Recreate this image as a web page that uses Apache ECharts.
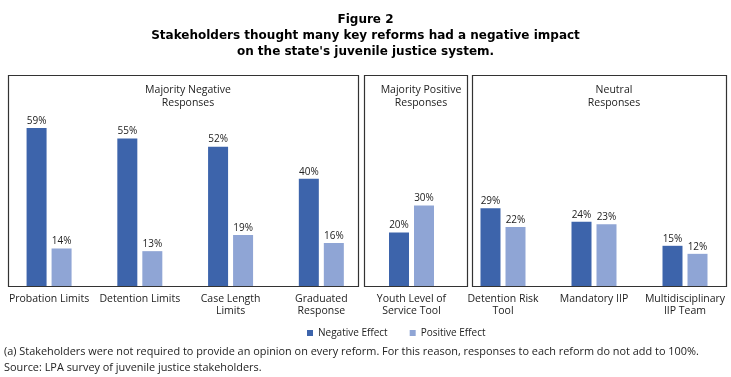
<!DOCTYPE html>
<html>
<head>
<meta charset="utf-8">
<script src="https://cdn.jsdelivr.net/npm/echarts@6/dist/echarts.min.js"></script>
<style>
  html, body { margin: 0; padding: 0; background: #fff; }
  #chart { width: 731px; height: 377px; }
</style>
</head>
<body>
<div id="chart"></div>
<script>
// panel 1 - majority negative
const cats1 = ['Probation Limits', 'Detention Limits', 'Case Length\nLimits', 'Graduated\nResponse'];
const neg1 = [59, 55, 52, 40];
const pos1 = [14, 13, 19, 16];
// panel 2 - majority positive
const cats2 = ['Youth Level of\nService Tool'];
const neg2 = [20];
const pos2 = [30];
// panel 3 - neutral
const cats3 = ['Detention Risk\nTool', 'Mandatory IIP', 'Multidisciplinary\nIIP Team'];
const neg3 = [29, 24, 15];
const pos3 = [22, 23, 12];

const darkBlue = '#3d64ab';
const lightBlue = '#8fa5d5';
const font = 'Open Sans';

const chart = echarts.init(document.getElementById('chart'));

function grid(left, width) {
    return {left: left, width: width, top: 18, bottom: 91};
}
function xAx(idx, data) {
    return {
        type: 'category', gridIndex: idx, data: data,
        axisLine: {show: false}, axisTick: {show: false},
        axisLabel: {interval: 0, color: '#222', fontFamily: font, fontSize: 10.5, lineHeight: 12, margin: 7}
    };
}
function yAx(idx) {
    return {type: 'value', gridIndex: idx, min: 0, max: 100, show: false};
}
function bar(name, idx, data, color) {
    return {
        name: name, type: 'bar', xAxisIndex: idx, yAxisIndex: idx,
        data: data, barWidth: 20, barGap: '25%',
        itemStyle: {color: color},
        label: {show: true, position: 'top', distance: 2, formatter: '{c}%', color: '#222', fontFamily: font, fontSize: 10},
        animation: false
    };
}
function panelTitle(text, x) {
    return {
        text: text, left: x, top: 79, textAlign: 'center',
        textStyle: {fontFamily: font, fontSize: 10.5, fontWeight: 'normal', color: '#222', lineHeight: 13}
    };
}

chart.setOption({
    backgroundColor: '#ffffff',
    title: [
        {
            text: 'Figure 2\nStakeholders thought many key reforms had a negative impact\non the state\'s juvenile justice system.',
            left: 'center', top: 7,
            textStyle: {fontFamily: 'DejaVu Sans', fontSize: 12, fontWeight: 'bold', color: '#000', lineHeight: 16, align: 'center'}
        },
        panelTitle('Majority Negative\nResponses', 183),
        panelTitle('Majority Positive\nResponses', 416),
        panelTitle('Neutral\nResponses', 609)
    ],
    legend: {
        top: 323, left: 302, itemWidth: 6, itemHeight: 6, itemGap: 22,
        icon: 'rect',
        textStyle: {fontFamily: font, fontSize: 10, color: '#222'},
        data: ['Negative Effect', 'Positive Effect']
    },
    graphic: [
        {type: 'rect', shape: {x: 8.5, y: 75.5, width: 350, height: 211}, style: {fill: 'none', stroke: '#333', lineWidth: 1.2}},
        {type: 'rect', shape: {x: 364.5, y: 75.5, width: 103, height: 211}, style: {fill: 'none', stroke: '#333', lineWidth: 1.2}},
        {type: 'rect', shape: {x: 472.5, y: 75.5, width: 254, height: 211}, style: {fill: 'none', stroke: '#333', lineWidth: 1.2}},
        {type: 'text', left: 4, top: 346, style: {text: '(a) Stakeholders were not required to provide an opinion on every reform. For this reason, responses to each reform do not add to 100%.', fontFamily: font, fontSize: 10.9, fill: '#222'}},
        {type: 'text', left: 4, top: 362, style: {text: 'Source: LPA survey of juvenile justice stakeholders.', fontFamily: font, fontSize: 10.9, fill: '#222'}}
    ],
    grid: [grid(3.7, 363), grid(366, 91), grid(457.5, 273)],
    xAxis: [xAx(0, cats1), xAx(1, cats2), xAx(2, cats3)],
    yAxis: [yAx(0), yAx(1), yAx(2)],
    series: [
        bar('Negative Effect', 0, neg1, darkBlue),
        bar('Positive Effect', 0, pos1, lightBlue),
        bar('Negative Effect', 1, neg2, darkBlue),
        bar('Positive Effect', 1, pos2, lightBlue),
        bar('Negative Effect', 2, neg3, darkBlue),
        bar('Positive Effect', 2, pos3, lightBlue)
    ]
});
</script>
</body>
</html>
